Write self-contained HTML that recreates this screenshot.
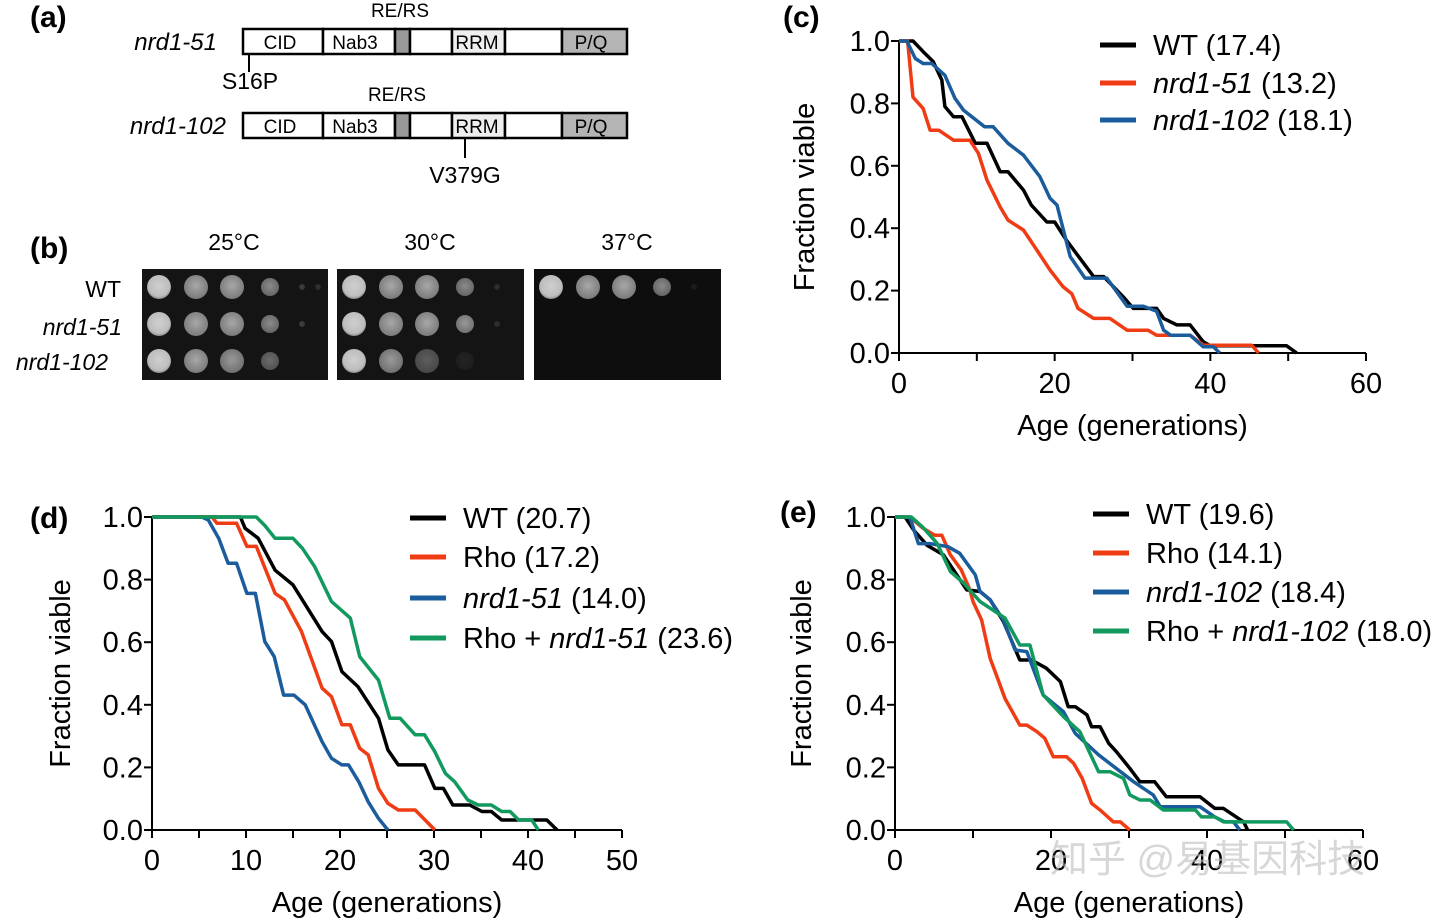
<!DOCTYPE html>
<html><head><meta charset="utf-8"><style>
html,body{margin:0;padding:0;background:#fff;}
svg{display:block;font-family:"Liberation Sans","Noto Sans CJK SC",sans-serif;}
</style></head><body>
<svg id="fig" width="1440" height="922" viewBox="0 0 1440 922" xmlns="http://www.w3.org/2000/svg">
<defs>
<radialGradient id="spot" cx="50%" cy="45%" r="55%"><stop offset="0" stop-color="#cfcfcf"/><stop offset="0.8" stop-color="#bdbdbd"/><stop offset="1" stop-color="#8a8a8a"/></radialGradient>
<radialGradient id="spot2" cx="50%" cy="45%" r="55%"><stop offset="0" stop-color="#a8a8a8"/><stop offset="1" stop-color="#7a7a7a"/></radialGradient>
</defs>
<g>
<text x="30" y="27" font-size="30" font-weight="bold">(a)</text>
<text x="217" y="50" font-size="24" font-style="italic" text-anchor="end">nrd1-51</text>
<text x="400" y="17" font-size="19" text-anchor="middle">RE/RS</text>
<g stroke="#000" stroke-width="2.5">
<rect x="243" y="29" width="80" height="25" fill="#fff"/><rect x="323" y="29" width="72" height="25" fill="#fff"/><rect x="395" y="29" width="15" height="25" fill="#999"/><rect x="410" y="29" width="42" height="25" fill="#fff"/><rect x="452" y="29" width="53" height="25" fill="#eee"/><rect x="505" y="29" width="57" height="25" fill="#fff"/><rect x="562" y="29" width="65" height="25" fill="#b4b4b4"/></g>
<g font-size="19" text-anchor="middle"><text x="280" y="49">CID</text><text x="355" y="49">Nab3</text><text x="477" y="49">RRM</text><text x="591" y="49">P/Q</text></g>
<line x1="249" y1="54" x2="249" y2="72" stroke="#000" stroke-width="2"/>
<text x="250" y="89" font-size="23" text-anchor="middle">S16P</text>
<text x="226" y="134" font-size="24" font-style="italic" text-anchor="end">nrd1-102</text>
<text x="397" y="101" font-size="19" text-anchor="middle">RE/RS</text>
<g stroke="#000" stroke-width="2.5">
<rect x="243" y="113" width="80" height="25" fill="#fff"/><rect x="323" y="113" width="72" height="25" fill="#fff"/><rect x="395" y="113" width="15" height="25" fill="#999"/><rect x="410" y="113" width="42" height="25" fill="#fff"/><rect x="452" y="113" width="53" height="25" fill="#eee"/><rect x="505" y="113" width="57" height="25" fill="#fff"/><rect x="562" y="113" width="65" height="25" fill="#b4b4b4"/></g>
<g font-size="19" text-anchor="middle"><text x="280" y="133">CID</text><text x="355" y="133">Nab3</text><text x="477" y="133">RRM</text><text x="591" y="133">P/Q</text></g>
<line x1="465" y1="138" x2="465" y2="158" stroke="#000" stroke-width="2"/>
<text x="465" y="183" font-size="23" text-anchor="middle">V379G</text>
</g>
<g id="pb">
<text x="30" y="258" font-size="30" font-weight="bold">(b)</text>
<g font-size="23" text-anchor="middle"><text x="234" y="250">25°C</text><text x="430" y="250">30°C</text><text x="627" y="250">37°C</text></g>
<g font-size="23" text-anchor="end"><text x="121" y="297">WT</text><text x="122" y="335" font-style="italic">nrd1-51</text><text x="108" y="370" font-style="italic">nrd1-102</text></g>
<rect x="142" y="269" width="186" height="111" fill="#141414"/><rect x="337" y="269" width="187" height="111" fill="#141414"/><rect x="534" y="269" width="187" height="111" fill="#0e0e0e"/>
</g>
<g id="charts"></g>
<text x="1050" y="872" font-size="38" fill="#bdbdbd" fill-opacity="0.6">知乎 @易基因科技</text>
</svg>
<script>
const pb=document.getElementById('pb');
const NS='http://www.w3.org/2000/svg';
const spotSets=[[142,[[1,1,1,.8,.3,.2],[1,1,1,.8,.3,0],[1,1,.9,.6,0,0]]],[337,[[1,1,1,.8,.2,0],[1,1,1,.9,.2,0],[1,.9,.5,.1,0,0]]],[534,[[1,1,1,.8,.1,0],[0,0,0,0,0,0],[0,0,0,0,0,0]]]];
const offs=[17,54,90,128,160,176],rows=[287,324,361];
spotSets.forEach(([x0,grid])=>grid.forEach((r,ri)=>r.forEach((v,ci)=>{if(!v)return;
 const c=document.createElementNS(NS,'circle');c.setAttribute('cx',x0+offs[ci]);c.setAttribute('cy',rows[ri]);
 c.setAttribute('r',ci<3?12:(ci==3?9:3));c.setAttribute('fill',ci==0?'url(#spot)':'url(#spot2)');c.setAttribute('opacity',v);
 
 
 pb.appendChild(c);})));

const cX_WT=[0,1.8,3.1,4.4,5.5,5.9,7,8.1,9.8,11.3,13,14,16,17,19,20,21.5,25,26.3,28.8,30.1,33.1,34,35.7,37.4,39.1,40,49.8,51.1];
const cY_WT=[1,1,0.966,0.934,0.875,0.79,0.757,0.757,0.672,0.672,0.581,0.581,0.522,0.474,0.42,0.42,0.362,0.245,0.245,0.18,0.143,0.143,0.111,0.09,0.09,0.036,0.023,0.023,0];
const cX_51=[0,1.1,1.8,3.1,4,5.1,7,9.1,10.2,11.3,13,14,16,17.7,19.4,21.1,22.2,23,25,27.1,29.3,32,33.1,37.4,39.1,45.3,46.2];
const cY_51=[1,1,0.82,0.784,0.714,0.714,0.682,0.682,0.64,0.554,0.468,0.426,0.394,0.33,0.266,0.212,0.19,0.143,0.111,0.111,0.073,0.073,0.057,0.057,0.025,0.025,0];
const cX_102=[0,1,2.1,3.1,4.2,5.9,7.2,8.3,11,12.1,14,16,18.1,19.4,20.3,22,23.9,26.7,29.3,31.4,33.1,34,34.9,37.4,39.1,40.4,41.2];
const cY_102=[1,1,0.944,0.928,0.928,0.89,0.816,0.778,0.725,0.725,0.672,0.634,0.565,0.496,0.474,0.309,0.24,0.24,0.15,0.15,0.134,0.073,0.057,0.057,0.02,0.02,0];

const dX_WT=[0,9.4,9.9,11.3,13.1,15,18.1,19.1,20.2,21.9,24.1,25.1,26.2,29,30.1,31,32,33.8,35.1,36.1,37.2,42,43.1];
const dY_WT=[1,1,0.964,0.932,0.83,0.783,0.634,0.602,0.506,0.458,0.357,0.256,0.208,0.208,0.133,0.133,0.08,0.08,0.059,0.059,0.032,0.032,0];
const dX_Rho=[0,6.4,6.9,9,10.1,11.1,13.1,14.1,15.9,18.1,19.1,20.2,21.1,22.1,23,24.1,25.1,26.2,28,30.1];
const dY_Rho=[1,1,0.98,0.98,0.906,0.906,0.756,0.735,0.634,0.453,0.426,0.336,0.336,0.261,0.24,0.133,0.085,0.064,0.064,0];
const dX_51=[0,5.3,6,7.1,8.1,9,10.1,11,12,13,14,15.1,16.3,18.1,19.1,20.2,20.9,22,23,24.1,25.1];
const dY_51=[1,1,0.99,0.932,0.852,0.852,0.756,0.756,0.602,0.554,0.431,0.431,0.4,0.282,0.229,0.208,0.208,0.154,0.09,0.037,0];
const dX_R51=[0,11.1,12,13.1,15,16,17.3,19.1,21.1,22.1,24.1,25.3,26.4,28,29,30.1,31.2,32.2,33.6,34.7,36.1,37.2,38.1,39,40.4,41.1];
const dY_R51=[1,1,0.973,0.932,0.932,0.9,0.842,0.73,0.677,0.554,0.479,0.357,0.357,0.304,0.304,0.25,0.181,0.154,0.096,0.08,0.08,0.059,0.059,0.032,0.032,0];

const eX_WT=[0,1.3,2.4,4.1,6.2,9.2,10.9,12.2,13.9,16,17.5,19.4,21.2,22.2,23.1,24.6,25.2,26.3,27.4,28.4,30.1,31.4,33.3,34.8,39.1,41,42.1,44.7,45.2];
const eY_WT=[1,1,0.958,0.91,0.879,0.767,0.762,0.735,0.666,0.543,0.543,0.517,0.474,0.394,0.394,0.368,0.33,0.33,0.277,0.25,0.197,0.154,0.154,0.106,0.106,0.069,0.069,0.026,0];
const eX_Rho=[0,1.9,3.6,5.1,6,7.1,8.5,9.6,10,11.1,12.2,13,14.1,16,16.9,18.2,19.2,20.3,22,22.9,24,25.2,26.3,28,28.9,30.1];
const eY_Rho=[1,1,0.964,0.942,0.942,0.879,0.831,0.767,0.73,0.671,0.548,0.495,0.42,0.335,0.335,0.314,0.293,0.234,0.234,0.213,0.165,0.085,0.064,0.026,0.026,0];
const eX_102=[0,1.9,3,4.5,6.8,8.3,10.3,10.9,12.2,13.9,15.4,16.9,19,21.6,23.1,26.1,30.6,33.1,34,39.1,41,42.3,43.4,44.2];
const eY_102=[1,1,0.915,0.915,0.905,0.884,0.815,0.762,0.735,0.671,0.575,0.57,0.431,0.378,0.309,0.24,0.154,0.112,0.074,0.074,0.042,0.026,0.026,0];
const eX_R102=[0,2.1,3.6,5.4,7.1,8.8,10.9,14.1,16,17.3,19,21.6,23.7,26.1,27.6,29.3,30.1,31.4,32.7,34.4,38.5,39.3,41,42.1,50.2,51.1];
const eY_R102=[1,1,0.966,0.916,0.826,0.789,0.73,0.677,0.591,0.591,0.431,0.362,0.314,0.186,0.186,0.165,0.112,0.096,0.096,0.064,0.064,0.042,0.042,0.026,0.026,0];

const cTicksX=[0,20,40,60],dTicksX=[0,10,20,30,40,50],yTicks=[0,0.2,0.4,0.6,0.8,1.0];
const cLegend=['WT (17.4)','nrd1-51 (13.2)','nrd1-102 (18.1)'];
const dLegend=['WT (20.7)','Rho (17.2)','nrd1-51 (14.0)','Rho + nrd1-51 (23.6)'];
const eLegend=['WT (19.6)','Rho (14.1)','nrd1-102 (18.4)','Rho + nrd1-102 (18.0)'];

const K='#000',R='#f03c14',B='#1b5c9c',G='#129a5e';
const host=document.getElementById('charts');
function el(tag,attrs,parent){const e=document.createElementNS(NS,tag);for(const k in attrs)e.setAttribute(k,attrs[k]);(parent||host).appendChild(e);return e;}
function legendText(t,g,x,y){
  const tx=el('text',{x:x,y:y,'font-size':29},g);
  const m=t.match(/^(.*?)(nrd1-\d+)(.*)$/);
  if(m){ if(m[1]){const s=el('tspan',{},tx);s.textContent=m[1];}
    const s2=el('tspan',{'font-style':'italic'},tx);s2.textContent=m[2];
    const s3=el('tspan',{},tx);s3.textContent=m[3];}
  else tx.textContent=t;
  return tx;
}
function panel(o){
  const g=el('g',{});
  
  
  const sx=v=>o.x0+(o.x1-o.x0)*v/o.xmax, sy=v=>o.y0-(o.y0-o.y1)*v;
  const lab=el('text',{x:o.lx,y:o.ly,'font-size':30,'font-weight':'bold'},g);lab.textContent=o.label;
  
  
  el('line',{x1:o.x0,y1:o.y1,x2:o.x0,y2:o.y0,stroke:'#000','stroke-width':2},g);
  el('line',{x1:o.x0,y1:o.y0,x2:o.x1,y2:o.y0,stroke:'#000','stroke-width':2},g);
  yTicks.forEach(v=>{el('line',{x1:o.x0-8,y1:sy(v),x2:o.x0,y2:sy(v),stroke:'#000','stroke-width':2},g);
    const t=el('text',{x:o.x0-9,y:sy(v)+10,'font-size':29,'text-anchor':'end'},g);t.textContent=v.toFixed(1);
    
    });
  for(let v=0;v<=o.xmax;v+=o.minor){el('line',{x1:sx(v),y1:o.y0,x2:sx(v),y2:o.y0+8,stroke:'#000','stroke-width':2},g);}
  o.ticks.forEach(v=>{const t=el('text',{x:sx(v),y:o.y0+40,'font-size':29,'text-anchor':'middle'},g);t.textContent=v;
    
    });
  const xt=el('text',{x:(o.x0+o.x1)/2,y:o.y0+82,'font-size':29,'text-anchor':'middle'},g);xt.textContent='Age (generations)';
  
  
  const yc=(o.y0+o.y1)/2;
  const yt=el('text',{x:o.ytx,y:yc,'font-size':29,'text-anchor':'middle',transform:`rotate(-90 ${o.ytx} ${yc})`},g);yt.textContent='Fraction viable';
  
  
  o.series.forEach((s,i)=>{
    const pts=s.x.map((v,j)=>sx(v).toFixed(1)+','+sy(s.y[j]).toFixed(1)).join(' ');
    const p=el('polyline',{points:pts,fill:'none',stroke:s.c,'stroke-width':3.5,'stroke-linejoin':'round'},g);
    
    
    const le=el('g',{},g);
    
    
    const ly=o.legY[i];
    el('line',{x1:o.legX,y1:ly,x2:o.legX+36,y2:ly,stroke:s.c,'stroke-width':5},le);
    legendText(o.legend[i],le,o.legX+53,ly+10);
  });
}
panel({name:'panel-c',label:'(c)',lx:783,ly:27,x0:899,x1:1366,xmax:60,y0:353,y1:41,ticks:cTicksX,minor:10,ytx:814,
  legX:1100,legY:[45,83,120],legend:cLegend,
  series:[{n:'wt',x:cX_WT,y:cY_WT,c:K},{n:'nrd1-51',x:cX_51,y:cY_51,c:R},{n:'nrd1-102',x:cX_102,y:cY_102,c:B}]});
panel({name:'panel-d',label:'(d)',lx:30,ly:528,x0:152,x1:622,xmax:50,y0:830,y1:517,ticks:dTicksX,minor:5,ytx:70,
  legX:410,legY:[518,557,598,638],legend:dLegend,
  series:[{n:'wt',x:dX_WT,y:dY_WT,c:K},{n:'rho',x:dX_Rho,y:dY_Rho,c:R},{n:'nrd1-51',x:dX_51,y:dY_51,c:B},{n:'rho-nrd1-51',x:dX_R51,y:dY_R51,c:G}]});
panel({name:'panel-e',label:'(e)',lx:780,ly:522,x0:895,x1:1363,xmax:60,y0:830,y1:517,ticks:cTicksX,minor:10,ytx:811,
  legX:1093,legY:[514,553,592,631],legend:eLegend,
  series:[{n:'wt',x:eX_WT,y:eY_WT,c:K},{n:'rho',x:eX_Rho,y:eY_Rho,c:R},{n:'nrd1-102',x:eX_102,y:eY_102,c:B},{n:'rho-nrd1-102',x:eX_R102,y:eY_R102,c:G}]});
</script>
</body></html>
